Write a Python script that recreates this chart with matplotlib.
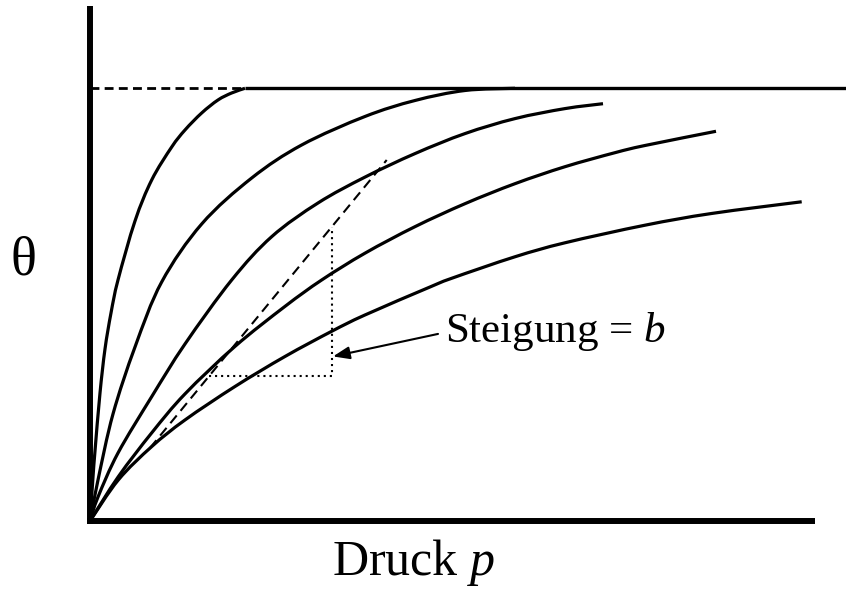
import matplotlib
matplotlib.use("Agg")
import numpy as np
import matplotlib.pyplot as plt
from matplotlib.path import Path
from matplotlib.patches import PathPatch

plt.rcParams["font.family"] = ["Liberation Serif", "DejaVu Serif"]
plt.rcParams["mathtext.fontset"] = "custom"
plt.rcParams["mathtext.rm"] = "Liberation Serif"
plt.rcParams["mathtext.it"] = "Liberation Serif:italic"

# Adsorption isotherms theta(p), read at points along each curve
curve1_p = [0, 0.03, 0.05, 0.10, 0.15, 0.21, 0.28, 0.45, 0.617, 0.817, 0.95, 1.117, 1.28, 1.417, 1.55]
curve1_t = [0, 0.1016, 0.1617, 0.2956, 0.3972, 0.4804, 0.5566, 0.6928, 0.7875, 0.8637, 0.9030,
            0.9423, 0.9723, 0.9885, 0.9993]

curve2_p = [0, 0.08, 0.23, 0.45, 0.717, 1.117, 1.617, 2.117, 2.75, 3.25, 3.75, 4.25]
curve2_t = [0, 0.0947, 0.2471, 0.4018, 0.5520, 0.6859, 0.7921, 0.8684, 0.9342, 0.9711, 0.9942, 0.9993]

curve3_p = [0, 0.08, 0.28, 0.617, 0.95, 1.417, 1.817, 2.28, 2.75, 3.25, 3.75, 4.25, 4.75, 5.13]
curve3_t = [0, 0.0554, 0.1570, 0.2871, 0.4088, 0.5566, 0.6566, 0.7344, 0.7942, 0.8485, 0.8947,
            0.9293, 0.9524, 0.9637]

curve4_p = [0, 0.283, 0.617, 0.95, 1.45, 1.95, 2.317, 2.75, 3.25, 3.75, 4.25, 4.75, 5.25, 5.55, 6.26]
curve4_t = [0, 0.1023, 0.2035, 0.2935, 0.4032, 0.4956, 0.5566, 0.6185, 0.6797, 0.7328, 0.7790,
            0.8182, 0.8506, 0.8672, 0.9000]

curve5_p = [0, 0.283, 0.617, 0.95, 1.45, 1.95, 2.417, 2.75, 3.40, 3.617, 4.25, 4.75, 5.55, 6.217, 7.117]
curve5_t = [0, 0.0947, 0.1718, 0.2333, 0.3106, 0.3799, 0.4381, 0.4758, 0.5404, 0.5605, 0.6102,
            0.6425, 0.6831, 0.7102, 0.7372]

# Monolayer limit theta = 1
theta_max = 1.0
plateau_start = 1.55

# Initial tangent (slope b) and its slope triangle
tangent_p = [0.60, 2.967]
tangent_t = [0.1686, 0.8337]
triangle_p = [1.19, 2.42]

# Axis extents
p_axis_end = 7.25
theta_axis_top = 1.19


def smooth_curve(xs, ys):
    """Cubic Bezier path passing through every given point (Catmull-Rom tangents)."""
    pts = np.column_stack([xs, ys]).astype(float)
    n = len(pts)
    verts = [pts[0]]
    codes = [Path.MOVETO]
    for i in range(n - 1):
        p0 = pts[i - 1] if i > 0 else pts[i]
        p1 = pts[i]
        p2 = pts[i + 1]
        p3 = pts[i + 2] if i + 2 < n else pts[i + 1]
        verts += [p1 + (p2 - p0) / 6.0, p2 - (p3 - p1) / 6.0, p2]
        codes += [Path.CURVE4] * 3
    return Path(verts, codes)


fig = plt.figure(figsize=(8.46, 5.90), dpi=100)
ax = fig.add_axes([0, 0, 1, 1])
ax.set_xlim(-0.90, 7.56)
ax.set_ylim(-0.1594, 1.2032)
ax.axis("off")

for cp, ct in [(curve1_p, curve1_t), (curve2_p, curve2_t), (curve3_p, curve3_t),
               (curve4_p, curve4_t), (curve5_p, curve5_t)]:
    ax.add_patch(PathPatch(smooth_curve(cp, ct), fill=False, edgecolor="black",
                           lw=2.3, capstyle="butt", joinstyle="round"))

# Saturation line: dashed up to where the steepest curve meets it, solid afterwards
ax.plot([0, plateau_start], [theta_max, theta_max], color="black", lw=2.0,
        linestyle=(0, (3.2, 1.9)), dash_capstyle="butt")
ax.plot([plateau_start, 7.56], [theta_max, theta_max], color="black", lw=2.4,
        solid_capstyle="butt")

# Tangent line
ax.plot(tangent_p, tangent_t, color="black", lw=1.5, linestyle=(0, (4.8, 2.9)),
        dash_capstyle="butt")

# Slope triangle (dotted)
slope = (tangent_t[1] - tangent_t[0]) / (tangent_p[1] - tangent_p[0])
t_low = tangent_t[0] + slope * (triangle_p[0] - tangent_p[0])
t_high = tangent_t[0] + slope * (triangle_p[1] - tangent_p[0])
ax.plot([triangle_p[0], triangle_p[1], triangle_p[1]], [t_low, t_low, t_high],
        color="black", lw=1.5, linestyle=(0, (1, 1.9)))

# Axes
ax.plot([0, 0], [-0.007, theta_axis_top], color="black", lw=4.3, solid_capstyle="butt")
ax.plot([-0.03, p_axis_end], [0, 0], color="black", lw=4.3, solid_capstyle="butt")

# Annotation
ax.annotate("", xy=(2.43, 0.380), xytext=(3.48, 0.432),
            arrowprops=dict(arrowstyle="-|>,head_length=1.0,head_width=0.38",
                            color="black", lw=1.5, shrinkA=0, shrinkB=0))
ax.text(3.55, 0.414, "Steigung = $b$", fontsize=31, ha="left", va="baseline")

ax.text(-0.665, 0.60, "θ", fontsize=39, ha="center", va="center")
ax.text(2.42, -0.1247, "Druck $p$", fontsize=36, ha="left", va="baseline")

fig.savefig("out.png", dpi=100)
